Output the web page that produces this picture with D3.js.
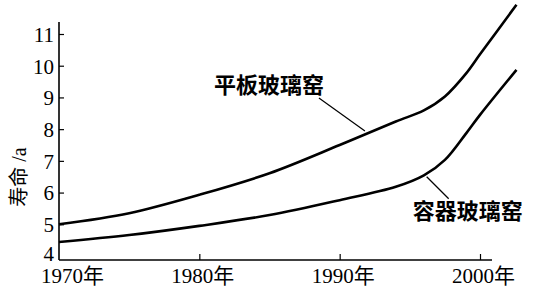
<!DOCTYPE html>
<html>
<head>
<meta charset="utf-8">
<script src="https://cdn.jsdelivr.net/npm/d3@7"></script>
<style>
  body{margin:0;background:#fff}
  svg{display:block}
</style>
</head>
<body>
<svg id="chart" width="552" height="291"></svg>
<script>
// values
const years = [1970, 1975, 1980, 1985, 1990, 1994, 1996, 1997.5, 1999, 2000, 2002.6]
const flatGlass = [5.0, 5.35, 5.93, 6.61, 7.5, 8.24, 8.59, 9.03, 9.75, 10.36, 11.92]
const containerGlass = [4.44, 4.66, 4.95, 5.29, 5.76, 6.18, 6.54, 7.03, 7.86, 8.45, 9.87]
const xTicks = [1970, 1980, 1990, 2000]
const yTicks = [4, 5, 6, 7, 8, 9, 10, 11]
const seriesNames = ["平板玻璃窑", "容器玻璃窑"]
// where the leader line touches each curve
const leaderAt = [[1991.8, 7.94], [1996.2, 6.5]]

const svg = d3.select("#chart")
const serif = "'Liberation Serif','Noto Sans CJK SC',serif"
const cjk = "'Noto Sans CJK SC',sans-serif"

const x = d3.scaleLinear().domain([1970, 2000]).range([59, 480])
const y = d3.scaleLinear().domain([4, 11]).range([256, 34])
const xAxisY = 260

// axes lines
svg.append("line")
  .attr("x1", x(1970)).attr("x2", 492)
  .attr("y1", xAxisY).attr("y2", xAxisY)
  .attr("stroke", "#000").attr("stroke-width", 1.6)
svg.append("line")
  .attr("x1", x(1970)).attr("x2", x(1970))
  .attr("y1", 22).attr("y2", xAxisY)
  .attr("stroke", "#000").attr("stroke-width", 1.6)

// x ticks (small, pointing up) + labels
const xg = svg.append("g").attr("transform", `translate(0,${xAxisY})`)
  .call(d3.axisBottom(x).tickValues(xTicks).tickSize(-6).tickFormat(d => d + "年"))
xg.select(".domain").remove()
xg.selectAll(".tick line").attr("stroke", "#000").attr("stroke-width", 1.2)
  .filter(d => d === 1970).remove()
xg.selectAll(".tick text")
  .attr("font-family", serif).attr("font-size", 21).attr("fill", "#000")
  .attr("y", 0).attr("dy", 23)
  .attr("dx", d => d === 1970 ? 13 : 3)

// y ticks (small, pointing right) + labels
const yg = svg.append("g").attr("transform", `translate(${x(1970)},0)`)
  .call(d3.axisLeft(y).tickValues(yTicks).tickSize(-5).tickFormat(d3.format("d")))
yg.select(".domain").remove()
yg.selectAll(".tick line").attr("stroke", "#000").attr("stroke-width", 1.2)
  .filter(d => d === 4).remove()
yg.selectAll(".tick text")
  .attr("font-family", serif).attr("font-size", 21).attr("fill", "#000")
  .attr("x", -5).attr("dy", d => d === 4 ? "0.2em" : "0.35em")

// y title
svg.append("text")
  .attr("transform", "translate(26,177) rotate(-90)")
  .attr("text-anchor", "middle")
  .attr("font-family", serif).attr("font-size", 20)
  .text("寿命 /a")

// curves
const line = d3.line()
  .x(d => x(d[0])).y(d => y(d[1]))
  .curve(d3.curveCatmullRom.alpha(0.5))

;[flatGlass, containerGlass].forEach(vals => {
  svg.append("path")
    .datum(years.map((yr, i) => [yr, vals[i]]))
    .attr("d", line)
    .attr("fill", "none")
    .attr("stroke", "#000")
    .attr("stroke-width", 2.6)
    .attr("stroke-linejoin", "round")
})

// labels with leader lines
const leaderOff = [[-46, -33], [22, 22]]
const labelOff = [[-151, -38], [-14, 42]]
seriesNames.forEach((name, i) => {
  const px = x(leaderAt[i][0]), py = y(leaderAt[i][1])
  svg.append("line")
    .attr("x1", px).attr("y1", py)
    .attr("x2", px + leaderOff[i][0]).attr("y2", py + leaderOff[i][1])
    .attr("stroke", "#000").attr("stroke-width", 1.2)
  svg.append("text")
    .attr("x", px + labelOff[i][0]).attr("y", py + labelOff[i][1])
    .attr("font-family", cjk).attr("font-size", 22).attr("font-weight", 700)
    .text(name)
})
</script>
</body>
</html>
